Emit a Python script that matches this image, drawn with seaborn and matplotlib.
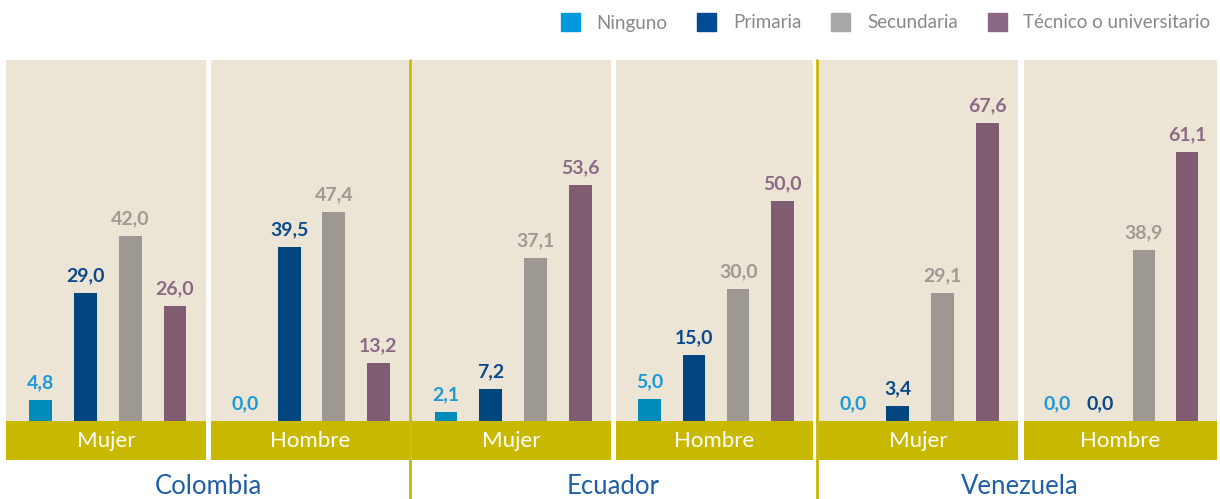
import matplotlib
matplotlib.use("Agg")
import matplotlib.pyplot as plt
import matplotlib.patches as mpatches
import seaborn as sns
import pandas as pd

# data
niveles = ["Ninguno", "Primaria", "Secundaria", "Técnico o universitario"]
paises = ["Colombia", "Ecuador", "Venezuela"]
sexos = ["Mujer", "Hombre"]

colombia_mujer = [4.8, 29.0, 42.0, 26.0]
colombia_hombre = [0.0, 39.5, 47.4, 13.2]
ecuador_mujer = [2.1, 7.2, 37.1, 53.6]
ecuador_hombre = [5.0, 15.0, 30.0, 50.0]
venezuela_mujer = [0.0, 3.4, 29.1, 67.6]
venezuela_hombre = [0.0, 0.0, 38.9, 61.1]

paneles = [
    ("Colombia", "Mujer", colombia_mujer),
    ("Colombia", "Hombre", colombia_hombre),
    ("Ecuador", "Mujer", ecuador_mujer),
    ("Ecuador", "Hombre", ecuador_hombre),
    ("Venezuela", "Mujer", venezuela_mujer),
    ("Venezuela", "Hombre", venezuela_hombre),
]

bar_colors = ["#008bbb", "#00457d", "#9d9891", "#7f5c71"]
label_colors = ["#1a9ad6", "#0a4a8c", "#9e9a94", "#8a6a85"]
beige = "#ece4d4"
olive = "#c9b800"

sns.set_theme(style="white")
plt.rcParams["font.family"] = ["Lato", "DejaVu Sans"]

W, H = 1220, 499
fig = plt.figure(figsize=(W / 100, H / 100), dpi=100)

# panel pixel extents (left, right)
extents = [(6, 206), (211, 409), (412, 611), (616, 813), (819, 1018), (1024, 1217)]
top_px, bot_px = 60, 460
xmin, xmax = -0.76, 3.69

for (pais, sexo, vals), (x0, x1) in zip(paneles, extents):
    ax = fig.add_axes([x0 / W, (H - bot_px) / H, (x1 - x0) / W, (bot_px - top_px) / H])
    df = pd.DataFrame({"nivel": niveles, "valor": vals})
    ax.set_facecolor(beige)
    ax.axhspan(-8.9, 0, color=olive, zorder=0, lw=0)
    sns.barplot(data=df, x="nivel", y="valor", hue="nivel", palette=bar_colors,
                width=0.51, legend=False, ax=ax, saturation=1, linewidth=0, zorder=2)
    ax.set_xlim(xmin, xmax)
    ax.set_ylim(-8.9, 82)
    for i, v in enumerate(vals):
        ax.text(i, v + 2.0, f"{v:.1f}".replace(".", ","), ha="center", va="bottom",
                fontsize=14, fontweight="bold", color=label_colors[i], zorder=4)
    ax.text((xmin + xmax) / 2, -4.6, sexo, ha="center", va="center", fontsize=16,
            color="white", zorder=5)
    ax.set_xlabel("")
    ax.set_ylabel("")
    ax.set_xticks([])
    ax.set_yticks([])
    for s in ax.spines.values():
        s.set_visible(False)

# country separators
for xs in [410, 817]:
    fig.add_artist(plt.Line2D([xs / W, xs / W], [0, (H - top_px) / H], color=olive, lw=2))

# country names
for pais, xc in zip(paises, [208, 613, 1020]):
    fig.text(xc / W, (H - 486) / H, pais, ha="center", va="center", fontsize=18.5, color="#1f5fa8")

handles = [mpatches.Patch(color=c, label=n) for c, n in zip(["#0099dd", "#004b93", "#a8a8aa", "#8a6987"], niveles)]
fig.legend(handles=handles, loc="upper right", bbox_to_anchor=(1.003, 1.0), ncol=4, frameon=False,
           fontsize=13.5, labelcolor="#888888", handlelength=1.0, handleheight=1.1,
           columnspacing=1.6, handletextpad=0.9, borderaxespad=0.3)

fig.savefig("out.png", dpi=100)
